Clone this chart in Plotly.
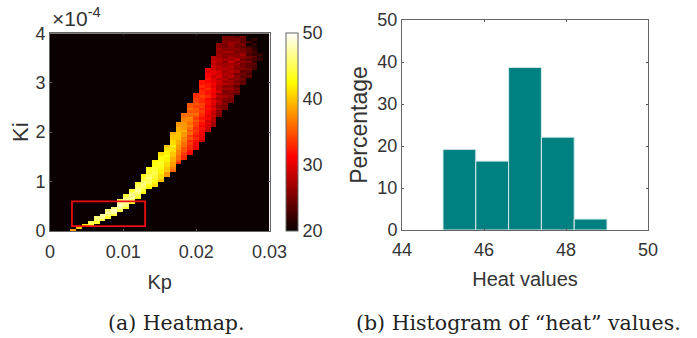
import plotly.graph_objects as go

W, H = 697, 338

# Heatmap data: each Kp column lists its first Ki row and the heat values going up
kp_step = 0.0008
ki_step = 5e-6
n_cols, n_rows = 38, 80
col_index = list(range(4, 37))
col_start = [0, 1, 2, 2, 3, 4, 5, 6, 8, 9, 11, 13, 15, 17, 18, 20, 22, 24, 27, 29, 31, 33, 36, 40, 42, 46, 49, 52, 55, 59, 62, 65, 69]
col_values = [
    [38],
    [40],
    [42],
    [44, 45],
    [44, 46, 46],
    [45, 47, 47],
    [44, 46, 47, 46],
    [44, 47, 48, 46],
    [45, 47, 48, 47, 45],
    [44, 46, 47, 47, 46, 44],
    [44, 46, 47, 47, 46, 44],
    [43, 45, 46, 47, 46, 45, 44],
    [42, 44, 45, 46, 46, 45, 44, 43],
    [42, 43, 45, 45, 46, 45, 44, 44, 43],
    [41, 42, 43, 44, 44, 45, 44, 44, 43, 43, 42],
    [40, 41, 41, 42, 42, 43, 43, 44, 43, 43, 42, 41],
    [38, 38, 40, 40, 41, 41, 42, 42, 43, 42, 42, 41, 40],
    [36, 37, 38, 38, 39, 39, 40, 40, 41, 41, 42, 41, 41, 40, 40, 39],
    [33, 35, 36, 36, 37, 37, 38, 38, 39, 39, 40, 40, 40, 39, 39, 38, 38],
    [33, 33, 34, 35, 35, 36, 36, 37, 37, 38, 38, 39, 38, 38, 38, 37, 37, 36, 36],
    [31, 32, 33, 33, 34, 33, 35, 34, 36, 35, 36, 37, 36, 37, 37, 36, 36, 35, 36, 35, 35],
    [30, 31, 31, 32, 33, 32, 33, 34, 33, 34, 34, 35, 34, 35, 36, 35, 35, 34, 35, 34, 34, 33, 33],
    [29, 30, 30, 31, 31, 32, 31, 32, 33, 32, 33, 33, 34, 33, 34, 34, 33, 33, 34, 33, 33, 32, 33, 32, 32],
    [28, 29, 29, 30, 29, 31, 30, 31, 31, 32, 31, 32, 32, 31, 33, 32, 32, 33, 32, 32, 31, 32, 31, 31, 30, 31],
    [27, 27, 28, 28, 29, 28, 29, 30, 29, 30, 30, 29, 31, 30, 31, 31, 30, 31, 30, 30, 29, 30, 30, 29, 29, 28, 29, 28, 28],
    [25, 26, 26, 27, 26, 27, 28, 27, 28, 27, 29, 28, 28, 29, 29, 28, 30, 29, 29, 28, 28, 27, 28, 28, 27, 27, 26, 27, 26, 26],
    [25, 25, 26, 25, 26, 27, 26, 25, 27, 26, 28, 27, 28, 27, 28, 27, 28, 27, 27, 26, 27, 26, 26, 27, 26, 25, 25, 26, 25, 25],
    [25, 25, 26, 25, 26, 27, 26, 27, 27, 26, 28, 27, 28, 27, 28, 27, 29, 27, 27, 26, 27, 26, 26, 27, 26, 25, 25],
    [24, 25, 25, 24, 26, 25, 26, 26, 25, 27, 26, 26, 27, 26, 28, 26, 26, 25, 26, 25, 25, 26, 25, 24],
    [24, 24, 25, 24, 25, 24, 26, 25, 25, 26, 25, 26, 27, 25, 25, 24, 25, 24, 24, 25],
    [24, 23, 24, 25, 24, 24, 25, 24, 25, 23, 24, 24, 23, 20, 23],
    [23, 23, 24, 22, 23, 24, 22, 23, 22, 21, 22, 20, 22],
    [22, 21, 22, 20],
]
background_heat = 20

kp_ticks = [0, 0.01, 0.02, 0.03]
kp_labels = ["0", "0.01", "0.02", "0.03"]
ki_ticks = [0, 1e-4, 2e-4, 3e-4, 4e-4]
ki_labels = ["0", "1", "2", "3", "4"]
cbar_ticks = [20, 30, 40, 50]

box_kp = [0.003, 0.013]
box_ki = [0.1e-4, 0.6e-4]

# Histogram data
bin_centers = [45.4, 46.2, 47.0, 47.8, 48.6]
bin_percent = [19.2, 16.4, 38.7, 22.1, 2.6]
bin_width = 0.8
heat_ticks = [44, 46, 48, 50]
pct_ticks = [0, 10, 20, 30, 40, 50]

z = [[background_heat] * n_cols for _ in range(n_rows)]
for k, start, vals in zip(col_index, col_start, col_values):
    for i, v in enumerate(vals):
        if start + i < n_rows:
            z[start + i][k] = v

hot = [
    [0.0, "rgb(10,0,0)"],
    [0.375, "rgb(255,0,0)"],
    [0.75, "rgb(255,255,0)"],
    [1.0, "rgb(255,255,255)"],
]

TXT = "#333333"
FONT = "Liberation Sans"
SERIF = "DejaVu Serif"

fig = go.Figure()
fig.add_trace(go.Heatmap(
    x=[k * kp_step for k in range(n_cols)],
    y=[(r + 0.5) * ki_step for r in range(n_rows)],
    z=z, zmin=20, zmax=50, colorscale=hot, xaxis="x", yaxis="y",
    colorbar=dict(
        x=286 / W, xanchor="left", xpad=0, ypad=0,
        y=107 / H, yanchor="bottom", len=198 / H, lenmode="fraction",
        thickness=12, thicknessmode="pixels",
        tickvals=cbar_ticks, ticks="", outlinecolor="#666666", outlinewidth=1,
        tickfont=dict(family=FONT, size=18, color=TXT),
    ),
))
fig.add_trace(go.Bar(
    x=bin_centers, y=bin_percent, width=bin_width,
    marker=dict(color="#008080", line=dict(color="#d5eaea", width=1)),
    xaxis="x2", yaxis="y2", showlegend=False,
))


def axis(title_size=20, **kw):
    return dict(
        ticks="inside", ticklen=2, tickwidth=1, tickcolor="#555555",
        showline=True, linecolor="#666666", linewidth=1, mirror="ticks",
        showgrid=False, zeroline=False, automargin=True,
        tickfont=dict(family=FONT, size=18, color=TXT),
        title_font=dict(family=FONT, size=title_size, color=TXT),
        **kw,
    )


fig.update_layout(
    width=W, height=H, margin=dict(l=0, r=0, t=0, b=0, autoexpand=False),
    paper_bgcolor="white", plot_bgcolor="white", showlegend=False,
    xaxis=axis(domain=[50 / W, 269.5 / W], range=[0, 0.03], tickvals=kp_ticks, ticktext=kp_labels,
               ticklabelstandoff=4, title=dict(text="Kp", standoff=14), anchor="y"),
    yaxis=axis(title_size=22, domain=[107 / H, 304.7 / H], range=[0, 4e-4], tickvals=ki_ticks, ticktext=ki_labels,
               title=dict(text="Ki", standoff=0), anchor="x"),
    xaxis2=axis(domain=[402 / W, 648 / W], range=[44, 50], tickvals=heat_ticks,
                ticklabelstandoff=3, title=dict(text="Heat values", standoff=13), anchor="y2"),
    yaxis2=axis(title_size=23, domain=[108 / H, 318 / H], range=[0, 50], tickvals=pct_ticks,
                title=dict(text="Percentage", standoff=3), anchor="x2"),
    shapes=[dict(type="rect", xref="x", yref="y", x0=box_kp[0], x1=box_kp[1], y0=box_ki[0], y1=box_ki[1],
                 line=dict(color="#ee0a10", width=1.8))],
    annotations=[
        dict(text="×10<sup>-4</sup>", x=50 / W, y=(H - 32) / H, xref="paper", yref="paper", xanchor="left",
             yanchor="bottom", showarrow=False, font=dict(family=FONT, size=21, color=TXT)),
        dict(text="(a) Heatmap.", x=176 / W, y=(H - 323) / H, xref="paper", yref="paper", xanchor="center",
             yanchor="middle", showarrow=False, font=dict(family=SERIF, size=20.5, color="#222222")),
        dict(text="(b) Histogram of “heat” values.", x=518 / W, y=(H - 323) / H, xref="paper", yref="paper",
             xanchor="center", yanchor="middle", showarrow=False, font=dict(family=SERIF, size=20.5, color="#222222")),
    ],
)
fig.write_html("out.html", config={"displayModeBar": False}, post_script="document.body.style.margin='0';")
